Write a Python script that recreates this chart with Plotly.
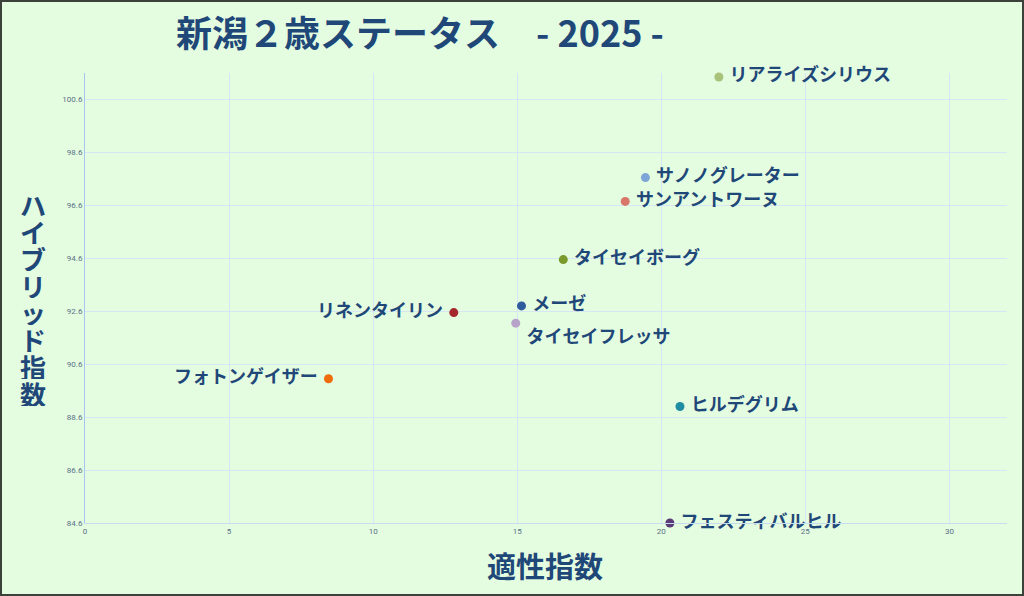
import plotly.graph_objects as go

# horse names, 適性指数 (x) and ハイブリッド指数 (y)
horses = ["リアライズシリウス", "サノノグレーター", "サンアントワーヌ", "タイセイボーグ", "メーゼ",
          "リネンタイリン", "タイセイフレッサ", "フォトンゲイザー", "ヒルデグリム", "フェスティバルヒル"]
aptitude = [22.0, 19.45, 18.75, 16.6, 15.15, 12.8, 14.95, 8.45, 20.65, 20.3]
hybrid = [101.45, 97.65, 96.75, 94.55, 92.8, 92.55, 92.15, 90.05, 89.0, 84.6]
dot_colors = ["#a8c27a", "#7ea4d8", "#d8766a", "#7a9a2c", "#2e5c9c",
              "#a4272c", "#b7a2c9", "#ef6c0c", "#1f8ea2", "#5b3a78"]
label_pos = ["middle right", "middle right", "middle right", "middle right", "middle right",
             "middle left", "bottom right", "middle left", "middle right", "middle right"]

y_ticks = [84.6, 86.6, 88.6, 90.6, 92.6, 94.6, 96.6, 98.6, 100.6]
x_ticks = [0, 5, 10, 15, 20, 25, 30]

navy = "#1f4878"
jp = "Noto Sans CJK JP"
y_title = "ハイブリッド指数"

fig = go.Figure()
fig.add_trace(go.Scatter(
    x=aptitude, y=hybrid, mode="markers+text",
    text=[" " + h + " " for h in horses], textposition=label_pos,
    textfont=dict(family=jp, size=18, color=navy, weight="bold"),
    marker=dict(size=9, color=dot_colors),
    showlegend=False, cliponaxis=False,
))

# stacked vertical y title, one character per line (27px pitch)
y_notes = []
for i, ch in enumerate(y_title):
    py = 190 + 13.5 + i * 27
    y_notes.append(dict(text=ch, xref="paper", yref="paper", x=-52 / 922, y=(523 - py) / 450,
                        xanchor="center", yanchor="middle", showarrow=False, height=26,
                        font=dict(family=jp, size=26, color=navy, weight="bold")))

fig.update_layout(
    width=1024, height=596,
    margin=dict(l=85, r=17, t=73, b=73),
    paper_bgcolor="#e4fde1", plot_bgcolor="#e4fde1",
    title=dict(text="新潟２歳ステータス　- 2025 -", x=176 / 1024, xanchor="left",
               y=1 - 34 / 596, yanchor="middle",
               font=dict(family=jp, size=36, color=navy, weight="bold")),
    xaxis=dict(range=[0, 32], tickvals=x_ticks, showgrid=True, gridcolor="#d6e6f4",
               zeroline=False, showline=True, linecolor="#c8dcf0",
               tickfont=dict(family="Roboto", size=8, color="#5a6e86")),
    yaxis=dict(range=[84.6, 101.6], tickvals=y_ticks, ticktext=[f"{v:.1f}" for v in y_ticks],
               showgrid=True, gridcolor="#d6e6f4", zeroline=False, showline=True,
               linecolor="#a8c4f0", tickfont=dict(family="Roboto", size=8, color="#5a6e86")),
    shapes=[dict(type="rect", xref="paper", yref="paper",
                 x0=-84 / 922, x1=(1024 - 86) / 922, y0=-72 / 450, y1=(596 - 74) / 450,
                 line=dict(color="#3c413c", width=2))],
    annotations=[
        dict(text="適性指数", xref="paper", yref="paper", x=(545 - 85) / 922, y=(523 - 565) / 450,
             xanchor="center", yanchor="middle", showarrow=False,
             font=dict(family=jp, size=29, color=navy, weight="bold")),
    ] + y_notes,
)

fig.write_html("out.html", config={"displayModeBar": False},
               post_script="document.body.style.margin='0';")
